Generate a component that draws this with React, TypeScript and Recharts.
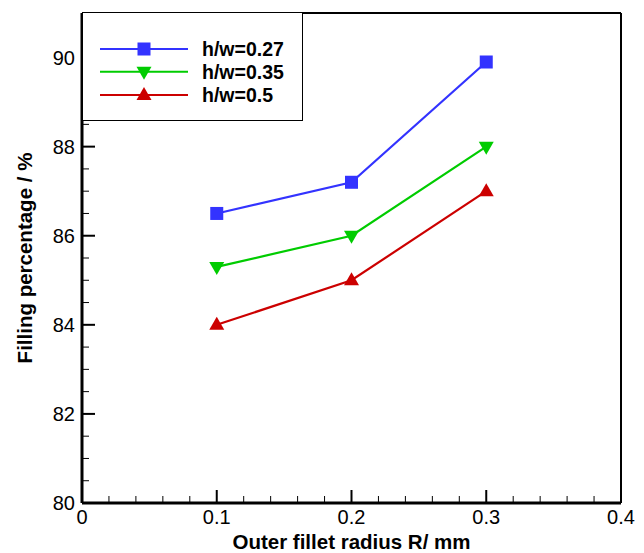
import React from "react";
import { LineChart, Line, XAxis, YAxis, Legend, ReferenceLine } from "recharts";

const radius = [0.1, 0.2, 0.3];
const fill027 = [86.5, 87.2, 89.9];
const fill035 = [85.3, 86.0, 88.0];
const fill05 = [84.0, 85.0, 87.0];

const xTicks = [
  0, 0.02, 0.04, 0.06, 0.08, 0.1, 0.12, 0.14, 0.16, 0.18, 0.2, 0.22, 0.24, 0.26, 0.28, 0.3,
  0.32, 0.34, 0.36, 0.38, 0.4,
];
const xMajor = [0, 0.1, 0.2, 0.3, 0.4];
const yTicks = [
  80, 80.5, 81, 81.5, 82, 82.5, 83, 83.5, 84, 84.5, 85, 85.5, 86, 86.5, 87, 87.5, 88, 88.5,
  89, 89.5, 90, 90.5, 91,
];
const yMajor = [80, 82, 84, 86, 88, 90];

const series = [
  { key: "a", name: "h/w=0.27", color: "#3333ff", shape: "square" },
  { key: "b", name: "h/w=0.35", color: "#00cc00", shape: "down" },
  { key: "c", name: "h/w=0.5", color: "#cc0000", shape: "up" },
];

const data = radius.map((r, i) => ({ r, a: fill027[i], b: fill035[i], c: fill05[i] }));

const FONT = '"Liberation Sans", Arial, Helvetica, sans-serif';

function Marker({ cx, cy, shape, color }: { cx: number; cy: number; shape: string; color: string }) {
  if (shape === "square") {
    return <rect x={cx - 6.5} y={cy - 6.5} width={13} height={13} fill={color} />;
  }
  if (shape === "up") {
    return <polygon points={`${cx},${cy - 8} ${cx - 7.5},${cy + 5} ${cx + 7.5},${cy + 5}`} fill={color} />;
  }
  return <polygon points={`${cx},${cy + 8} ${cx - 7.5},${cy - 5} ${cx + 7.5},${cy - 5}`} fill={color} />;
}

function XTick(props: any) {
  const { x, y, payload } = props;
  const major = xMajor.includes(payload.value);
  return (
    <g>
      <line x1={x} x2={x} y1={y} y2={y - (major ? 13 : 7)} stroke="#000" strokeWidth={major ? 2 : 1} />
      {major && (
        <text x={x} y={y + 21} textAnchor="middle" fontSize={20} fill="#000" fontFamily={FONT}>
          {String(payload.value)}
        </text>
      )}
    </g>
  );
}

function YTick(props: any) {
  const { x, y, payload } = props;
  const major = yMajor.includes(payload.value);
  return (
    <g>
      <line x1={x} x2={x + (major ? 13 : 7)} y1={y} y2={y} stroke="#000" strokeWidth={major ? 2 : 1} />
      {major && (
        <text x={x - 7} y={y + 7} textAnchor="end" fontSize={20} fill="#000" fontFamily={FONT}>
          {String(payload.value)}
        </text>
      )}
    </g>
  );
}

function LegendBox() {
  const rows = [37, 59.7, 83];
  return (
    <div
      style={{
        width: 221,
        height: 109,
        boxSizing: "border-box",
        border: "1px solid #000",
        background: "#fff",
      }}
    >
      <svg width={219} height={107} style={{ display: "block" }}>
        {series.map((s, i) => (
          <g key={s.key}>
            <line x1={17} x2={105} y1={rows[i] - 1} y2={rows[i] - 1} stroke={s.color} strokeWidth={2} />
            <Marker cx={61} cy={rows[i] - 1} shape={s.shape} color={s.color} />
            <text x={119} y={rows[i] + 6} fontSize={19.5} fontWeight="bold" fill="#000" fontFamily={FONT}>
              {s.name}
            </text>
          </g>
        ))}
      </svg>
    </div>
  );
}

export default function App() {
  return (
    <div style={{ position: "absolute", left: 0, top: 0, background: "#fff" }}>
      <LineChart
        width={644}
        height={553}
        data={data}
        margin={{ top: 13, right: 23, left: 0, bottom: 0 }}
        style={{ fontFamily: FONT }}
      >
        <XAxis
          type="number"
          dataKey="r"
          domain={[0, 0.4]}
          ticks={xTicks}
          interval={0}
          tickSize={0}
          tickMargin={0}
          tickLine={false}
          axisLine={{ stroke: "#000", strokeWidth: 3 }}
          height={50}
          tick={<XTick />}
          label={() => (
            <text x={351.5} y={549} textAnchor="middle" fontSize={20.5} fontWeight="bold" fill="#000" fontFamily={FONT}>
              Outer fillet radius R/ mm
            </text>
          )}
        />
        <YAxis
          type="number"
          domain={[80, 91]}
          ticks={yTicks}
          interval={0}
          tickSize={0}
          tickMargin={0}
          tickLine={false}
          axisLine={{ stroke: "#000", strokeWidth: 3 }}
          width={82}
          tick={<YTick />}
          label={() => (
            <text
              x={32}
              y={258}
              transform="rotate(-90, 32, 258)"
              textAnchor="middle"
              fontSize={20.5}
              fontWeight="bold"
              fill="#000"
              fontFamily={FONT}
            >
              Filling percentage / %
            </text>
          )}
        />
        <ReferenceLine y={91} stroke="#000" strokeWidth={2} />
        <ReferenceLine x={0.4} stroke="#000" strokeWidth={2} />
        {series.map((s) => (
          <Line
            key={s.key}
            type="linear"
            dataKey={s.key}
            name={s.name}
            stroke={s.color}
            strokeWidth={2.2}
            isAnimationActive={false}
            activeDot={false}
            dot={(p: any) => (
              <Marker key={`${s.key}-${p.index}`} cx={p.cx} cy={p.cy} shape={s.shape} color={s.color} />
            )}
          />
        ))}
        <Legend
          layout="vertical"
          align="center"
          verticalAlign="middle"
          wrapperStyle={{ top: 12, left: 82, width: 221, height: 109 }}
          content={() => <LegendBox />}
        />
      </LineChart>
    </div>
  );
}
